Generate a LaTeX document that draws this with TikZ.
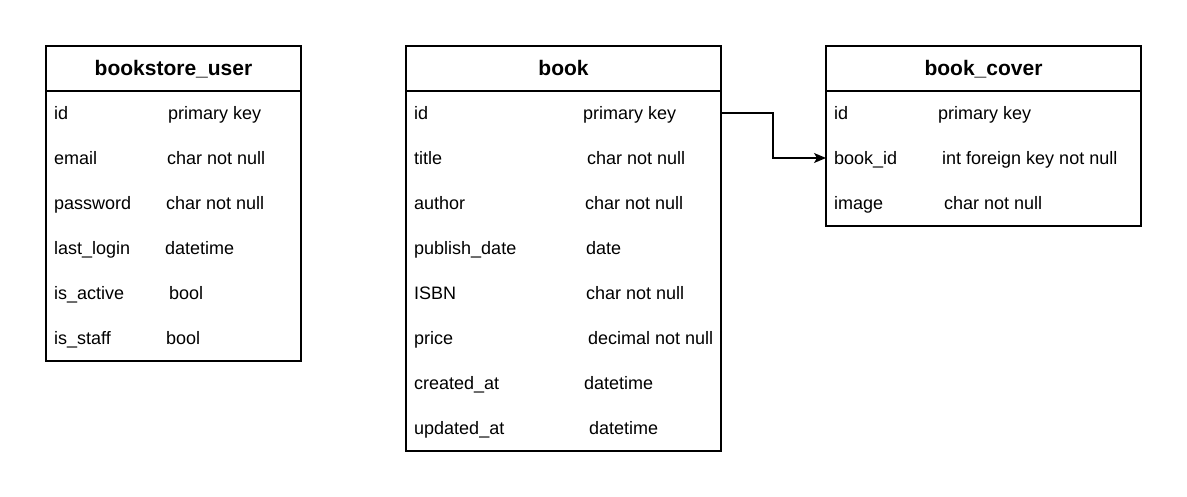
\documentclass[tikz,border=0pt]{standalone}
\usepackage{fontspec}
\setmainfont{Liberation Sans}
\usetikzlibrary{arrows.meta}
\begin{document}
\begin{tikzpicture}[x=1pt,y=-1pt,
  tbl/.style={draw=black,line width=1.4pt,anchor=north west,inner sep=0pt,outer sep=0pt,minimum width=#1},
  hdr/.style={font=\fontsize{21}{25}\selectfont\bfseries,anchor=base,inner sep=0pt},
  txt/.style={font=\fontsize{18}{21}\selectfont,anchor=base west,inner sep=0pt},
  rowbox/.style={inner sep=0pt,outer sep=0pt,minimum height=45pt,minimum width=#1},
  conn/.style={line width=1.2pt,-{Stealth[length=12pt,width=10pt,inset=3pt]}}]
\useasboundingbox (0,0) rectangle (1187,497);
% bookstore_user
\node[tbl=255pt,minimum height=315pt] (user) at (46,46) {};
\draw[line width=1.4pt] (user.west |- 0,91) -- (user.east |- 0,91);
\node[hdr] (userh) at (173.5,75.5) {bookstore\_user};
\node[txt] (u1a) at (54,119.5) {id};        \node[txt] (u1b) at (168,119.5) {primary key};
\node[txt] (u2a) at (54,164.5) {email};     \node[txt] (u2b) at (167,164.5) {char not null};
\node[txt] (u3a) at (54,209.5) {password};  \node[txt] (u3b) at (166,209.5) {char not null};
\node[txt] (u4a) at (54,254.5) {last\_login};\node[txt] (u4b) at (165,254.5) {datetime};
\node[txt] (u5a) at (54,299.5) {is\_active}; \node[txt] (u5b) at (169,299.5) {bool};
\node[txt] (u6a) at (54,344.5) {is\_staff};  \node[txt] (u6b) at (166,344.5) {bool};
% book
\node[tbl=315pt,minimum height=405pt] (book) at (406,46) {};
\draw[line width=1.4pt] (book.west |- 0,91) -- (book.east |- 0,91);
\node[hdr] (bookh) at (563.5,75.5) {book};
\node[rowbox=315pt] (bookr1) at (563.5,113) {};
\node[txt] (b1a) at (414,119.5) {id};           \node[txt] (b1b) at (583,119.5) {primary key};
\node[txt] (b2a) at (414,164.5) {title};        \node[txt] (b2b) at (587,164.5) {char not null};
\node[txt] (b3a) at (414,209.5) {author};       \node[txt] (b3b) at (585,209.5) {char not null};
\node[txt] (b4a) at (414,254.5) {publish\_date}; \node[txt] (b4b) at (586,254.5) {date};
\node[txt] (b5a) at (414,299.5) {ISBN};         \node[txt] (b5b) at (586,299.5) {char not null};
\node[txt] (b6a) at (414,344.5) {price};        \node[txt] (b6b) at (588,344.5) {decimal not null};
\node[txt] (b7a) at (414,389.5) {created\_at};   \node[txt] (b7b) at (584,389.5) {datetime};
\node[txt] (b8a) at (414,434.5) {updated\_at};   \node[txt] (b8b) at (589,434.5) {datetime};
% book_cover
\node[tbl=315pt,minimum height=180pt] (cover) at (826,46) {};
\draw[line width=1.4pt] (cover.west |- 0,91) -- (cover.east |- 0,91);
\node[hdr] (coverh) at (983.5,75.5) {book\_cover};
\node[rowbox=315pt] (coverr2) at (983.5,158) {};
\node[txt] (c1a) at (834,119.5) {id};       \node[txt] (c1b) at (938,119.5) {primary key};
\node[txt] (c2a) at (834,164.5) {book\_id};  \node[txt] (c2b) at (942,164.5) {int foreign key not null};
\node[txt] (c3a) at (834,209.5) {image};    \node[txt] (c3b) at (944,209.5) {char not null};
% connector
\draw[conn] (bookr1.east) -- ++(52,0) |- (coverr2.west);
\end{tikzpicture}
\end{document}
